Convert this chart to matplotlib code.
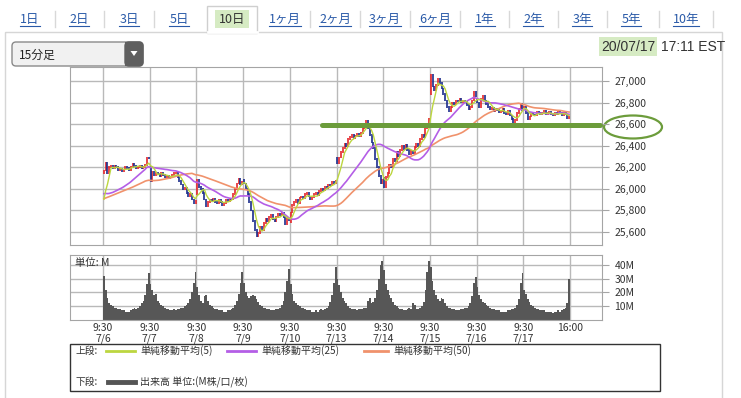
import numpy as np
import pandas as pd
import matplotlib
matplotlib.use("Agg")
import matplotlib.pyplot as plt
from matplotlib.patches import Rectangle, Ellipse, FancyBboxPatch, Polygon

plt.rcParams['font.family'] = ['Noto Sans CJK JP', 'DejaVu Sans']

# ---- data (15-minute bars, 26 per session) ----
days = ['7/6', '7/7', '7/8', '7/9', '7/10', '7/13', '7/14', '7/15', '7/16', '7/17']
tabs = ['1日', '2日', '3日', '5日', '10日', '1ヶ月', '2ヶ月', '3ヶ月', '6ヶ月', '1年', '2年', '3年', '5年', '10年']
active_tab = '10日'
stamp_date = '20/07/17'
stamp_time = '17:11 EST'

# closes of the two sessions before 7/6, only used to seed the moving averages
prev_close = [25860, 25850, 25870, 25880, 25860, 25840, 25850, 25870, 25880, 25860, 25850, 25840,
              25830, 25850, 25860, 25840, 25830, 25820, 25830, 25810, 25800, 25790, 25780,
              26050, 26120, 26170, 26200, 26150, 26100, 26060, 26020, 25990, 25970, 25960, 25950,
              25940, 25920, 25900, 25890, 25880, 25870, 25860, 25850, 25840, 25830, 25840, 25850,
              25830, 25827]

day_open = [26150, 26200, 25950, 26080, 25690, 26290, 26100, 26880, 26830, 26760]

close_76 = [26170, 26240, 26150, 26200, 26215, 26190, 26210, 26200, 26175, 26185, 26160, 26180, 26200,
            26190, 26175, 26205, 26230, 26215, 26195, 26205, 26210, 26190, 26205, 26220, 26290, 26285]
close_77 = [26070, 26160, 26130, 26150, 26140, 26120, 26150, 26130, 26110, 26120, 26100, 26110, 26130,
            26145, 26150, 26110, 26070, 26040, 26000, 26010, 25960, 25930, 25950, 25900, 25870, 25890]
close_78 = [26080, 26020, 26000, 25960, 25900, 25840, 25880, 25900, 25890, 25910, 25880, 25870, 25895,
            25880, 25850, 25870, 25900, 25890, 25910, 25900, 25950, 26000, 26050, 26090, 26040, 26060]
close_79 = [26050, 26000, 25950, 25880, 25800, 25700, 25620, 25560, 25590, 25650, 25620, 25680, 25720,
            25700, 25740, 25760, 25720, 25700, 25740, 25770, 25760, 25780, 25740, 25670, 25720, 25706]
close_710 = [25780, 25850, 25880, 25900, 25870, 25920, 25930, 25910, 25950, 25960, 25930, 25900, 25920,
             25950, 25960, 25940, 25980, 26000, 25990, 26020, 26010, 26040, 26030, 26060, 26050, 26075]
close_713 = [26240, 26290, 26340, 26380, 26420, 26400, 26460, 26480, 26500, 26470, 26490, 26510, 26490,
             26520, 26560, 26600, 26630, 26560, 26500, 26430, 26380, 26280, 26200, 26120, 26050, 26085]
close_714 = [26020, 26110, 26150, 26220, 26200, 26280, 26260, 26340, 26300, 26360, 26400, 26370, 26410,
             26360, 26320, 26350, 26330, 26390, 26420, 26400, 26460, 26500, 26480, 26560, 26600, 26650]
close_715 = [27060, 26950, 26920, 26960, 27020, 26980, 26930, 26880, 26820, 26760, 26720, 26760, 26800,
             26790, 26820, 26810, 26830, 26800, 26820, 26810, 26780, 26740, 26760, 26820, 26900, 26860]
close_716 = [26800, 26760, 26830, 26860, 26820, 26790, 26760, 26740, 26750, 26720, 26740, 26730, 26710,
             26720, 26740, 26700, 26690, 26720, 26680, 26650, 26620, 26640, 26700, 26740, 26790, 26734]
close_717 = [26760, 26700, 26650, 26670, 26700, 26690, 26680, 26710, 26700, 26690, 26700, 26720, 26690,
             26700, 26710, 26690, 26680, 26700, 26690, 26710, 26700, 26680, 26700, 26690, 26660, 26672]

# volume in millions
vol_76 = [32, 22, 16, 12, 11, 10, 9, 9, 8, 8, 7, 7, 6, 6, 6, 7, 8, 9, 8, 9, 10, 12, 14, 18, 26, 34]
vol_77 = [26, 22, 18, 19, 14, 12, 11, 10, 9, 8, 8, 7, 7, 8, 7, 8, 8, 9, 9, 10, 11, 12, 15, 20, 27, 35]
vol_78 = [24, 18, 14, 12, 17, 18, 14, 11, 10, 9, 8, 8, 7, 7, 7, 6, 6, 7, 7, 8, 9, 11, 14, 19, 27, 35]
vol_79 = [27, 20, 17, 16, 17, 18, 17, 15, 13, 11, 10, 9, 9, 8, 8, 7, 7, 7, 8, 8, 9, 11, 14, 20, 28, 37]
vol_710 = [26, 19, 14, 12, 11, 10, 9, 9, 8, 7, 7, 7, 6, 6, 7, 6, 7, 8, 7, 8, 9, 10, 13, 18, 27, 38]
vol_713 = [30, 25, 20, 16, 14, 12, 10, 9, 8, 8, 8, 7, 8, 8, 8, 9, 9, 14, 16, 12, 13, 16, 22, 30, 40, 43]
vol_714 = [36, 26, 22, 18, 16, 13, 11, 10, 9, 8, 8, 7, 7, 8, 9, 8, 12, 11, 8, 8, 9, 10, 13, 22, 35, 43]
vol_715 = [38, 28, 22, 18, 15, 14, 16, 15, 12, 10, 9, 9, 8, 8, 7, 7, 7, 8, 8, 9, 9, 10, 12, 17, 27, 31]
vol_716 = [24, 18, 15, 13, 12, 11, 10, 9, 8, 8, 7, 7, 7, 6, 6, 6, 6, 7, 7, 8, 8, 9, 11, 15, 27, 34]
vol_717 = [22, 19, 15, 13, 11, 10, 9, 8, 8, 7, 7, 7, 6, 6, 6, 6, 5, 6, 6, 7, 6, 7, 8, 9, 12, 30]

price_ticks = [25600, 25800, 26000, 26200, 26400, 26600, 26800, 27000]
vol_ticks = [10, 20, 30, 40]
support_level = 26600   # hand-drawn line in the screenshot
support_from_bar = 122

# ---- assemble ----
closes = np.array(close_76 + close_77 + close_78 + close_79 + close_710 +
                  close_713 + close_714 + close_715 + close_716 + close_717, dtype=float)
vols = np.array(vol_76 + vol_77 + vol_78 + vol_79 + vol_710 +
                vol_713 + vol_714 + vol_715 + vol_716 + vol_717, dtype=float)
per_day = len(close_76)
n = len(closes)
opens = np.r_[prev_close[-1], closes[:-1]]
opens[::per_day] = day_open
xpos = np.arange(n) + 0.5

full = pd.Series(prev_close + list(closes))
ma5 = full.rolling(5).mean().values[len(prev_close):]
ma25 = full.rolling(25).mean().values[len(prev_close):]
ma50 = full.rolling(50).mean().values[len(prev_close):]

W, H = 741, 398
fig = plt.figure(figsize=(W / 100, H / 100), dpi=100)
fig.patch.set_facecolor('white')

# overlay in pixel coordinates for page furniture
bg = fig.add_axes([0, 0, 1, 1], zorder=0)
bg.set_xlim(0, W)
bg.set_ylim(H, 0)
bg.axis('off')

GRID = '#b9b9b9'
FRAME = '#a5a5a5'
RED = '#e5262b'
BLUE = '#1b2c8c'
C5, C25, C50 = '#bcd640', '#b45ee6', '#f0926c'
GREEN = '#6c9c3b'

def px_box(x0, y0, x1, y1):
    return [x0 / W, 1 - y1 / H, (x1 - x0) / W, (y1 - y0) / H]

# x range: bar index, day 7/6 starts at px 103, 16:00 at px 570
px_per_bar = (570 - 103) / n
xlim = (-(103 - 70) / px_per_bar, n + (602 - 570) / px_per_bar)
day_edges = list(range(0, n + 1, per_day))

# ---- price panel ----
ax = fig.add_axes(px_box(70, 67, 602, 245), zorder=1)
ax.set_xlim(*xlim)
ax.set_ylim(25479, 27130)
for yv in price_ticks:
    ax.axhline(yv, color=GRID, lw=1, zorder=0)
for xv in day_edges:
    ax.axvline(xv, color=GRID, lw=1, zorder=0)

up = closes >= opens
lo = np.minimum(opens, closes) - 8
hi = np.maximum(opens, closes) + 8
ax.vlines(xpos[up], lo[up], hi[up], color=RED, lw=1.2, zorder=2)
ax.vlines(xpos[~up], lo[~up], hi[~up], color=BLUE, lw=1.2, zorder=2)
ax.plot(xpos, ma50, color=C50, lw=1.2, zorder=3)
ax.plot(xpos, ma25, color=C25, lw=1.2, zorder=3)
ax.plot(xpos, ma5, color=C5, lw=1.0, zorder=3)

ax.plot([support_from_bar, xlim[1] - 1], [support_level - 10, support_level - 10],
        color=GREEN, lw=3.6, solid_capstyle='round', zorder=4, clip_on=False)

ax.yaxis.tick_right()
ax.set_yticks(price_ticks)
ax.set_yticklabels([f'{v:,}' for v in price_ticks])
ax.tick_params(axis='y', length=5, width=0.8, color=FRAME, pad=4, labelsize=7.5, labelcolor='#333333')
ax.set_xticks([])
for s in ax.spines.values():
    s.set_color(FRAME)

# ---- volume panel ----
axv = fig.add_axes(px_box(70, 255, 602, 320), zorder=1)
axv.set_xlim(*xlim)
axv.set_ylim(0, 47)
for yv in vol_ticks:
    axv.axhline(yv, color=GRID, lw=1, zorder=0)
for xv in day_edges:
    axv.axvline(xv, color=GRID, lw=1, zorder=0)
axv.bar(xpos, vols, width=1.0, color='#575757', linewidth=0, zorder=2)
axv.yaxis.tick_right()
axv.set_yticks(vol_ticks)
axv.set_yticklabels([f'{v}M' for v in vol_ticks])
axv.tick_params(axis='y', length=5, width=0.8, color=FRAME, pad=4, labelsize=7.5, labelcolor='#333333')
axv.set_xticks(day_edges)
axv.set_xticklabels([f'9:30\n{d}' for d in days] + ['16:00'])
axv.tick_params(axis='x', length=0, pad=2, labelsize=7.5, labelcolor='#333333')
for lab in axv.get_xticklabels():
    lab.set_linespacing(1.05)
    lab.set_verticalalignment('top')
axv.text(0.01, 0.95, '単位: M', transform=axv.transAxes, ha='left', va='top',
         fontsize=7.5, color='#333333', zorder=3)
for s in axv.spines.values():
    s.set_color(FRAME)

# ---- page furniture ----
bg.add_patch(Rectangle((5, 32), 717, 380, fill=False, ec='#d6d6d6', lw=1))

tab_x = [30, 79, 129, 179, 232, 285, 335, 385, 435, 485, 533, 582, 631, 686]
tab_texts = []
for i, (tx, t) in enumerate(zip(tab_x, tabs)):
    if t == active_tab:
        bg.add_patch(Rectangle((207, 6), 50, 27, fc='white', ec='#cfcfcf', lw=1, zorder=2))
        bg.plot([207.5, 256.5], [32, 32], color='white', lw=2, zorder=3)
        bg.add_patch(Rectangle((tx - 17, 10), 34, 18, fc='#d6ebc3', ec='none', zorder=3))
        bg.text(tx, 19, t, ha='center', va='center', fontsize=9, color='#333333', zorder=4)
    else:
        tt = bg.text(tx, 19, t, ha='center', va='center', fontsize=9, color='#2a5aa8', zorder=4)
        tab_texts.append(tt)
    if i < len(tabs) - 1 and t != active_tab and tabs[i + 1] != active_tab:
        sx = (tx + tab_x[i + 1]) / 2
        bg.plot([sx, sx], [11, 27], color='#d8d8d8', lw=1, zorder=2)
bg.plot([713, 713], [11, 27], color='#d8d8d8', lw=1, zorder=2)

# dropdown
bg.add_patch(FancyBboxPatch((12, 42), 131, 24, boxstyle='round,pad=0,rounding_size=4',
                            fc='#f1f1f1', ec='#8a8a8a', lw=1, zorder=2))
bg.add_patch(FancyBboxPatch((125, 42), 18, 24, boxstyle='round,pad=0,rounding_size=4',
                            fc='#5f5f5f', ec='#5f5f5f', lw=1, zorder=3))
bg.add_patch(Rectangle((125, 42), 6, 24, fc='#5f5f5f', ec='none', zorder=3))
bg.add_patch(Polygon([[130.5, 51], [137.5, 51], [134, 56]], closed=True, fc='white', ec='none', zorder=4))
bg.text(19, 55, '15分足', ha='left', va='center', fontsize=8.5, color='#222222', zorder=4)

# timestamp (date part highlighted)
stamp_font = dict(fontsize=10, family=['Liberation Sans', 'DejaVu Sans'], color='#333333')
st_date = bg.text(601, 47, stamp_date, ha='left', va='center', zorder=3, **stamp_font)
bg.text(661, 47, stamp_time, ha='left', va='center', zorder=3, **stamp_font)

# ellipse drawn around the 26,600 label
bg.add_patch(Ellipse((633, 127), 58, 23, fill=False, ec=GREEN, lw=1.6, zorder=5))

# legend box
bg.add_patch(Rectangle((70, 344), 590, 47, fill=False, ec='#333333', lw=1, zorder=2))
ly1, ly2 = 351, 382
bg.text(76, ly1, '上段:', ha='left', va='center', fontsize=7, color='#333333')
legend_items = [(106, 135, C5, '単純移動平均(5)'),
                (227, 256, C25, '単純移動平均(25)'),
                (364, 388, C50, '単純移動平均(50)')]
for x0, x1, col, lbl in legend_items:
    bg.plot([x0, x1], [ly1, ly1], color=col, lw=2)
    bg.text(x1 + 5, ly1, lbl, ha='left', va='center', fontsize=7.2, color='#333333')
bg.text(76, ly2, '下段:', ha='left', va='center', fontsize=7, color='#333333')
bg.plot([108, 135], [ly2, ly2], color='#555555', lw=3.5)
bg.text(140, ly2, '出来高 単位:(M株/口/枚)', ha='left', va='center', fontsize=7.2, color='#333333')

# underline the tab links, highlight behind the date
fig.canvas.draw()
inv = bg.transData.inverted()
for tt in tab_texts:
    bb = tt.get_window_extent()
    (x0, _), (x1, _) = inv.transform([[bb.x0, bb.y0], [bb.x1, bb.y0]])
    bg.plot([x0, x1], [26, 26], color='#2a5aa8', lw=0.8, zorder=4)
bb = st_date.get_window_extent()
(dx0, _), (dx1, _) = inv.transform([[bb.x0, bb.y0], [bb.x1, bb.y0]])
bg.add_patch(Rectangle((dx0 - 2, 37), dx1 - dx0 + 4, 19, fc='#d6ebc3', ec='none', zorder=2))

fig.savefig('out.png', dpi=100)
